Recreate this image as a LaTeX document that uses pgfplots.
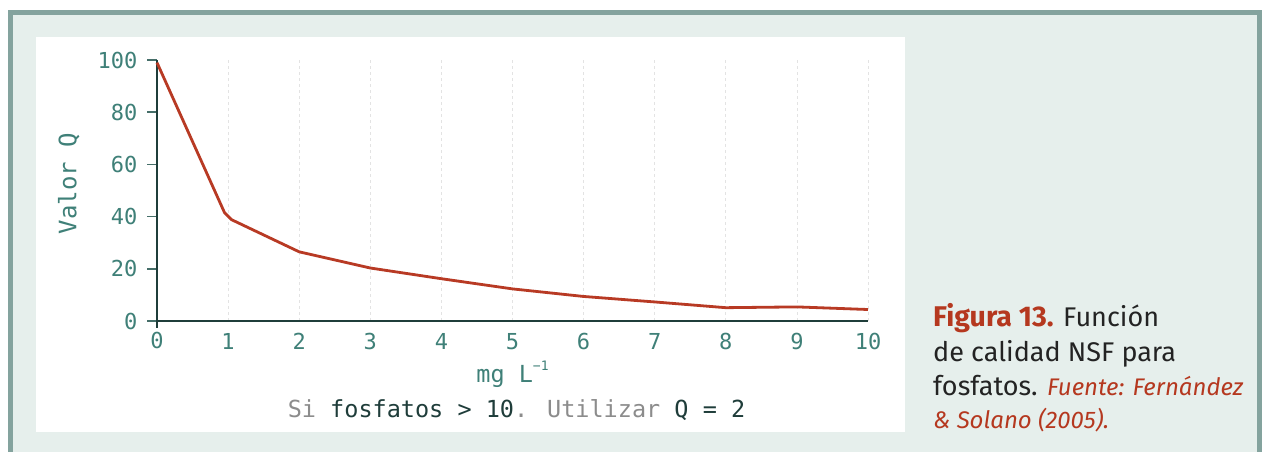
\documentclass[border=0pt]{standalone}
\usepackage{pgfplots}
\pgfplotsset{compat=1.18}
\usepackage{fontspec}
\setmainfont{Fira Sans}
\newfontfamily\mono{DejaVu Sans Mono}
\definecolor{framec}{HTML}{84A39E}
\definecolor{bgl}{HTML}{E6EFEC}
\definecolor{tealtxt}{HTML}{3F8078}
\definecolor{tickc}{HTML}{456E69}
\definecolor{axdark}{HTML}{1F3D3A}
\definecolor{linered}{HTML}{B83A24}
\definecolor{capred}{HTML}{B5381F}
\definecolor{greytxt}{HTML}{8C8C8C}
\definecolor{captxt}{HTML}{232323}
\definecolor{gridc}{HTML}{E3E3E3}
\begin{document}
\begin{tikzpicture}[x=1pt,y=1pt]
\useasboundingbox (0,0) rectangle (1262,452);
\begin{scope}
\clip (0,0) rectangle (1262,452);
\draw[framec, line width=5pt, fill=bgl] (10.5,-20) rectangle (1259.5,439.5);
\end{scope}
\fill[white] (36,20) rectangle (905,415);
\begin{axis}[
  at={(157pt,131pt)}, anchor=south west,
  scale only axis, width=711pt, height=261pt,
  xmin=0, xmax=10, ymin=0, ymax=100,
  axis x line=bottom, axis y line=left,
  axis line style={axdark, line width=1.5pt, -},
  xtick={1,...,10}, ytick={0,20,...,100},
  /pgf/number format/assume math mode=true,
  tick label style={font=\mono\fontsize{22}{26}\selectfont, text=tealtxt},
  xtick style={draw=none},
  ytick style={tickc, line width=1.5pt},
  tick align=outside, major tick length=10pt,
  xticklabel style={anchor=north, yshift=1pt},
  yticklabel style={anchor=east, xshift=-6pt},
  extra x ticks={0},
  extra x tick style={grid=none, xtick style={draw=axdark, line width=1.5pt}, major tick length=7pt,
    xticklabel style={anchor=north, yshift=-2pt}},
  xmajorgrids, grid style={dashed, gridc, line width=0.8pt},
  ylabel={Valor Q},
  ylabel style={font=\mono\fontsize{24}{28}\selectfont, text=tealtxt, at={(axis description cs:-0.124,0.527)}, anchor=center, rotate=0},
  xlabel={mg L\raisebox{0.5em}{\fontsize{13}{13}\selectfont −1}},
  xlabel style={font=\mono\fontsize{23.5}{28}\selectfont, text=tealtxt, at={(axis description cs:0.5,-0.234)}, anchor=base},
  clip=false,
]
\addplot[linered, line width=2.8pt, line join=round] coordinates {
 (0,99) (0.95,41.5) (1.05,38.8) (2,26.5) (3,20.3) (4,16.2) (5,12.3) (6,9.4) (7,7.3) (8,5.1) (9,5.4) (10,4.4)
};
\end{axis}
\node[anchor=base, font=\mono\fontsize{23.5}{28}\selectfont, inner sep=0] at (516.5,34)
  {\textcolor{greytxt}{Si} \textcolor{axdark}{fosfatos > 10}\textcolor{greytxt}{. Utilizar} \textcolor{axdark}{Q = 2}};
\begin{scope}[every node/.style={anchor=base west, inner sep=0, font=\fontsize{27}{30}\selectfont, text=captxt}]
\node at (933,125) {\textcolor{capred}{\fontsize{28.5}{30}\selectfont\bfseries Figura 13.} Función};
\node at (933,90.5) {de calidad NSF para};
\node at (933,56.5) {fosfatos. \textcolor{capred}{\fontsize{24}{30}\selectfont\itshape Fuente: Fernández}};
\node at (933,23.5) {\textcolor{capred}{\fontsize{24}{30}\selectfont\itshape \& Solano (2005).}};
\end{scope}
\end{tikzpicture}
\end{document}
